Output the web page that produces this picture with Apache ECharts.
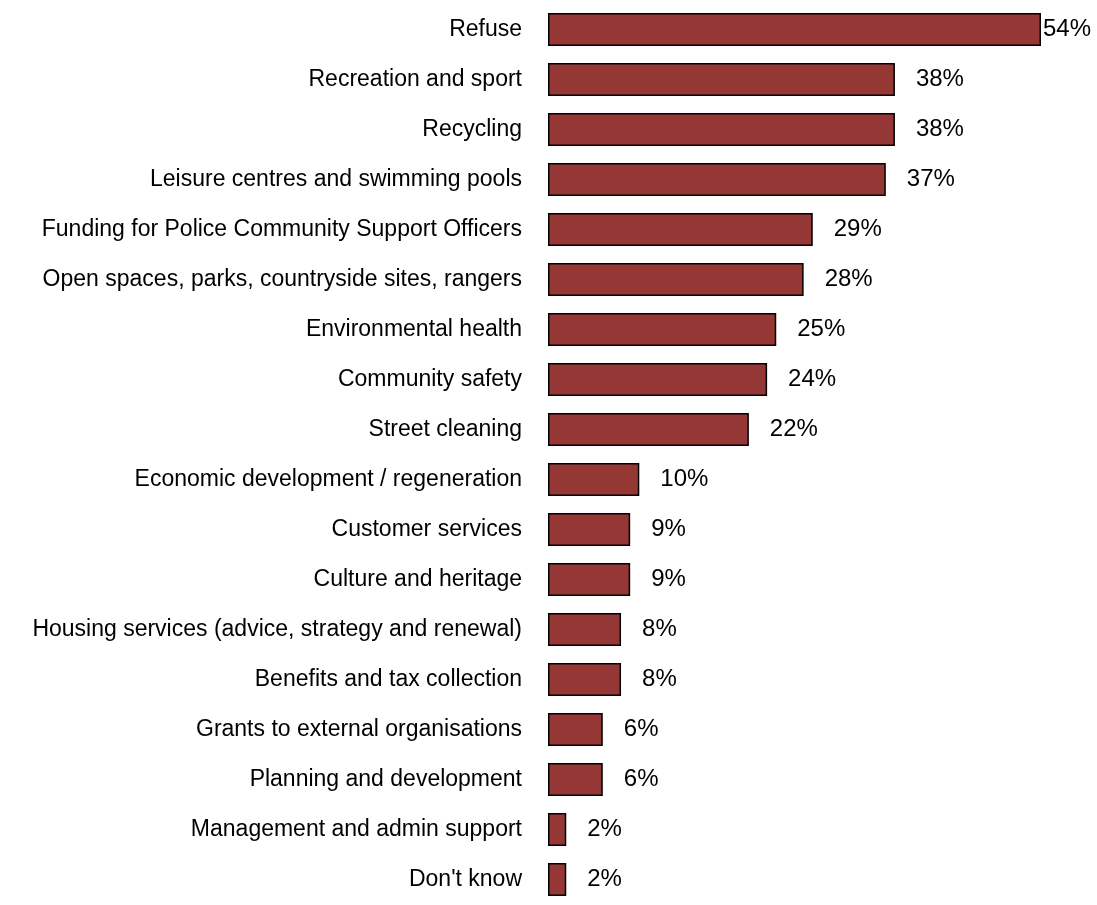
<!DOCTYPE html>
<html>
<head>
<meta charset="utf-8">
<script src="https://cdn.jsdelivr.net/npm/echarts@6/dist/echarts.min.js"></script>
<style>
  html, body { margin: 0; padding: 0; background: #ffffff; }
  #chart { width: 1097px; height: 905px; }
</style>
</head>
<body>
<div id="chart"></div>
<script>
// Services named as priorities, share of respondents (%)
const categories = [
  'Refuse',
  'Recreation and sport',
  'Recycling',
  'Leisure centres and swimming pools',
  'Funding for Police Community Support Officers',
  'Open spaces, parks, countryside sites, rangers',
  'Environmental health',
  'Community safety',
  'Street cleaning',
  'Economic development / regeneration',
  'Customer services',
  'Culture and heritage',
  'Housing services (advice, strategy and renewal)',
  'Benefits and tax collection',
  'Grants to external organisations',
  'Planning and development',
  'Management and admin support',
  "Don't know"
];
const values = [54, 38, 38, 37, 29, 28, 25, 24, 22, 10, 9, 9, 8, 8, 6, 6, 2, 2];

const chart = echarts.init(document.getElementById('chart'), null, { renderer: 'canvas' });

// The longest bar sits against the right edge, so its label hugs the bar end
const seriesData = values.map((v, i) => i === 0
  ? { value: v, label: { distance: 2 } }
  : { value: v });

chart.setOption({
  animation: false,
  grid: { left: 548, top: 4.5, width: 493, height: 900, containLabel: false },
  xAxis: {
    type: 'value',
    min: 0,
    max: 54,
    show: false
  },
  yAxis: {
    type: 'category',
    data: categories,
    inverse: true,
    axisLine: { show: false },
    axisTick: { show: false },
    splitLine: { show: false },
    axisLabel: {
      margin: 26,
      fontFamily: 'Liberation Sans, Arial, sans-serif',
      fontSize: 23,
      color: '#000000',
      padding: [3, 0, 0, 0]
    }
  },
  series: [{
    type: 'bar',
    data: seriesData,
    barWidth: 33,
    itemStyle: {
      color: '#953735',
      borderColor: '#000000',
      borderWidth: 1.5
    },
    label: {
      show: true,
      position: 'right',
      distance: 21,
      formatter: '{c}%',
      fontFamily: 'Liberation Sans, Arial, sans-serif',
      fontSize: 24,
      color: '#000000',
      padding: [3, 0, 0, 0]
    }
  }]
});
</script>
</body>
</html>
